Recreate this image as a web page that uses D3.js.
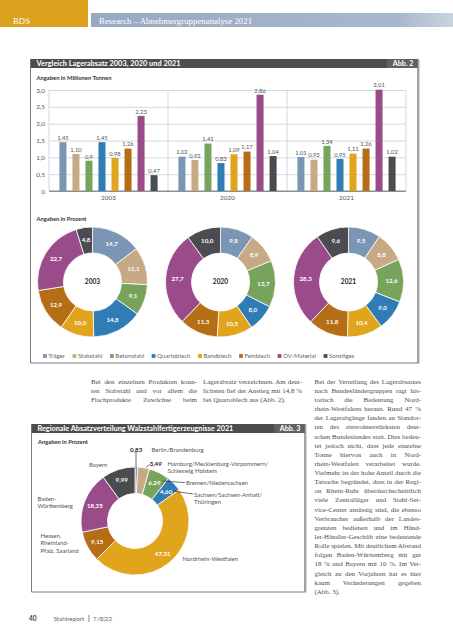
<!DOCTYPE html>
<html><head><meta charset="utf-8">
<script src="https://cdn.jsdelivr.net/npm/d3@7"></script>
<style>body{margin:0;background:#fff;} svg{display:block}</style>
</head><body>
<script>
// ---------------- DATA ----------------
const categories = ["Träger","Stabstahl","Betonstahl","Quartoblech","Bandblech","Feinblech","ÖV-Material","Sonstiges"];
const colors = ["#7b95b4","#c8a985","#78a35c","#2f7db4","#e1a41d","#b56d16","#9a4b8a","#4a4c4f"];
const years = ["2003","2020","2021"];
const tonnes2003 = [1.45,1.10,0.9,1.45,0.98,1.26,2.23,0.47];
const tonnes2020 = [1.02,0.92,1.41,0.83,1.09,1.17,2.86,1.04];
const tonnes2021 = [1.01,0.93,1.34,0.95,1.11,1.26,3.01,1.02];
const tonneLabels2003 = ["1,45","1,10","0,9","1,45","0,98","1,26","2,23","0,47"];
const tonneLabels2020 = ["1,02","0,92","1,41","0,83","1,09","1,17","2,86","1,04"];
const tonneLabels2021 = ["1,01","0,93","1,34","0,95","1,11","1,26","3,01","1,02"];
const yTicks = [0,0.5,1.0,1.5,2.0,2.5,3.0];
const yTickLabels = ["0","0,5","1,0","1,5","2,0","2,5","3,0"];
const share2003 = [14.7,11.1,9.1,14.8,10.0,12.9,22.7,4.8];
const share2020 = [9.8,8.9,13.7,8.0,10.5,11.3,27.7,10.0];
const share2021 = [9.5,8.8,12.6,9.0,10.4,11.8,28.3,9.6];
const regions = ["Berlin/Brandenburg","Hamburg/Mecklenburg-Vorpommern/Schleswig Holstein","Bremen/Niedersachsen","Sachsen/Sachsen-Anhalt/Thüringen","Nordrhein-Westfalen","Hessen, Rheinland-Pfalz, Saarland","Baden-Württemberg","Bayern"];
const regionShares = [0.83,3.49,6.29,4.60,47.31,9.15,18.35,9.99];
const regionLabels = ["0,83","3,49","6,29","4,60","47,31","9,15","18,35","9,99"];

// ---------------- TEXT ----------------
const col1 = ["Bei den einzelnen Produkten konn-","ten Stabstahl und vor allem die","Flachprodukte Zuwächse beim"];
const col2 = ["Lagerabsatz verzeichnen. Am deut-","lichsten fiel der Anstieg mit 14,8 %","bei Quartoblech aus (Abb. 2)."];
const col3 = ["Bei der Verteilung des Lagerabsatzes","nach Bundesländergruppen ragt his-","torisch die Bedeutung Nord-","rhein-Westfalens heraus. Rund 47 %","der Lagerabgänge fanden an Standor-","ten des einwohnerstärksten deut-","schen Bundeslandes statt. Dies bedeu-","tet jedoch nicht, dass jede einzelne","Tonne hiervon auch in Nord-","rhein-Westfalen verarbeitet wurde.","Vielmehr ist der hohe Anteil durch die","Tatsache begründet, dass in der Regi-","on Rhein-Ruhr überdurchschnittlich","viele Zentralläger und Stahl-Ser-","vice-Center ansässig sind, die ebenso","Verbraucher außerhalb der Landes-","grenzen bedienen und im Händ-","ler-Händler-Geschäft eine bedeutende","Rolle spielen. Mit deutlichem Abstand","folgen Baden-Württemberg mit gut","18 % und Bayern mit 10 %. Im Ver-","gleich zu den Vorjahren hat es hier","kaum Veränderungen gegeben","(Abb. 3)."];

// ---------------- SETUP ----------------
const W = 453, H = 640;
const SANS = "Lato, 'Open Sans', sans-serif";
const SERIF = "'Liberation Serif', 'DejaVu Serif', serif";
const svg = d3.select("body").append("svg").attr("width", W).attr("height", H)
  .style("font-family", SANS);
const defs = svg.append("defs");
const grad = defs.append("linearGradient").attr("id","hdr").attr("x1","0").attr("x2","1");
grad.append("stop").attr("offset","0").attr("stop-color","#97a9c1");
grad.append("stop").attr("offset","0.85").attr("stop-color","#a8b8cc");
grad.append("stop").attr("offset","1").attr("stop-color","#c9d3df");

function fit(t, width) {
  const fs = parseFloat(t.style("font-size"));
  const w = t.node().getComputedTextLength();
  if (w > 0) t.style("font-size", (fs*width/w).toFixed(2)+"px");
  return t;
}

// header
svg.append("rect").attr("x",0).attr("y",0).attr("width",88).attr("height",27).attr("fill","#dca21d");
svg.append("rect").attr("x",91).attr("y",13).attr("width",W-91).attr("height",14).attr("fill","url(#hdr)");
fit(svg.append("text").attr("x",13).attr("y",23.5).attr("fill","#fff").style("font-family",SERIF).style("font-size","7.6px").text("BDS"), 17);
fit(svg.append("text").attr("x",99).attr("y",23.5).attr("fill","#fff").style("font-family",SERIF).style("font-size","7.6px").text("Research – Abnehmergruppenanalyse 2021"), 153);

function frame(x0, y0, x1, y1, title, abb, titleW) {
  const g = svg.append("g");
  g.append("rect").attr("x",x0).attr("y",y0).attr("width",x1-x0).attr("height",9).attr("fill","#4b4d50");
  g.append("rect").attr("x",x1-31).attr("y",y0).attr("width",31).attr("height",9).attr("fill","#5f6164");
  fit(g.append("text").attr("x",x0+6).attr("y",y0+7.3).attr("fill","#fff").style("font-weight","700").style("font-size","7.4px").text(title), titleW);
  g.append("text").attr("x",x1-4.5).attr("y",y0+7.3).attr("text-anchor","end").attr("fill","#fff").style("font-weight","700").style("font-size","7.2px").text(abb);
  g.append("line").attr("x1",x0).attr("x2",x0).attr("y1",y0).attr("y2",y1).attr("stroke","#6b6d70").attr("stroke-width",0.9);
  g.append("line").attr("x1",x0).attr("x2",x1).attr("y1",y1).attr("y2",y1).attr("stroke","#6b6d70").attr("stroke-width",0.9);
  g.append("line").attr("x1",x1).attr("x2",x1).attr("y1",y0).attr("y2",y1).attr("stroke","#6b6d70").attr("stroke-width",1.3);
  g.append("line").attr("x1",x1+1.3).attr("x2",x1+1.3).attr("y1",y0+1).attr("y2",y1+1).attr("stroke","#c9c9c9").attr("stroke-width",1);
  return g;
}

// ---------------- ABB. 2 ----------------
frame(30.5, 59, 418, 363, "Vergleich Lagerabsatz 2003, 2020 und 2021", "Abb. 2", 144);
fit(svg.append("text").attr("x",36.5).attr("y",79.5).attr("fill","#333").style("font-weight","700").style("font-size","5.8px").text("Angaben in Millionen Tonnen"), 75);

const plotL = 49, plotR = 406;
const y = d3.scaleLinear().domain([0,3]).range([191,90]);
const x0 = d3.scaleBand().domain(years).range([plotL, plotR]);
const x1 = d3.scaleBand().domain(categories).range([0, x0.bandwidth()]).paddingInner(0.46).paddingOuter(0.8);

const yAxis = svg.append("g").attr("transform",`translate(${plotL},0)`)
  .call(d3.axisLeft(y).tickValues(yTicks).tickSize(-(plotR-plotL)).tickPadding(4)
    .tickFormat((d,i)=>yTickLabels[i]));
yAxis.select(".domain").remove();
yAxis.selectAll(".tick line").attr("stroke", d => d===0 ? "#8c8f93" : "#cbd5e1").attr("stroke-width", d=> d===0?1:0.9);
yAxis.selectAll(".tick text").attr("fill","#555").style("font-size","6.4px").style("font-family",SANS);

svg.append("g").selectAll("line").data([plotL, ...years.slice(1).map(d=>x0(d)), plotR]).join("line")
  .attr("x1",d=>d).attr("x2",d=>d).attr("y1",y(3)).attr("y2",y(0)).attr("stroke","#cbd5e1").attr("stroke-width",0.9);
svg.append("line").attr("x1",plotL).attr("x2",plotR).attr("y1",y(0)).attr("y2",y(0)).attr("stroke","#8c8f93").attr("stroke-width",1);

const barSeries = [
  {year:"2003", values:tonnes2003, labels:tonneLabels2003},
  {year:"2020", values:tonnes2020, labels:tonneLabels2020},
  {year:"2021", values:tonnes2021, labels:tonneLabels2021}
];
const groups = svg.append("g").selectAll("g").data(barSeries).join("g")
  .attr("transform", d=>`translate(${x0(d.year)},0)`);
groups.selectAll("rect").data(d=>d.values.map((v,i)=>({v, i, cat:categories[i]}))).join("rect")
  .attr("x", d=>x1(d.cat)).attr("width", x1.bandwidth())
  .attr("y", d=>y(d.v)).attr("height", d=>y(0)-y(d.v)).attr("fill", d=>colors[d.i]);
groups.selectAll("text.val").data(d=>d.values.map((v,i)=>({v, i, cat:categories[i], lab:d.labels[i]}))).join("text")
  .attr("class","val").attr("x", d=>x1(d.cat)+x1.bandwidth()/2).attr("y", d=>y(d.v)-2.2)
  .attr("text-anchor","middle").attr("fill","#555").style("font-size","5.8px").text(d=>d.lab);
svg.append("g").selectAll("text").data(years).join("text")
  .attr("x", d=>x0(d)+x0.bandwidth()/2).attr("y",200).attr("text-anchor","middle")
  .attr("fill","#555").style("font-size","6.4px").text(d=>d);

// donuts
fit(svg.append("text").attr("x",36.5).attr("y",221).attr("fill","#333").style("font-weight","700").style("font-size","5.8px").text("Angaben in Prozent"), 50);
const pie = d3.pie().sort(null).value(d=>d);
const donutR = 55, donutIr = 29;
const arc = d3.arc().innerRadius(donutIr).outerRadius(donutR);
const labelArc = d3.arc().innerRadius((donutR+donutIr)/2+1).outerRadius((donutR+donutIr)/2+1);
const cx = d3.scalePoint().domain(years).range([92.5, 348.5]);
const donutData = [{year:"2003", v:share2003},{year:"2020", v:share2020},{year:"2021", v:share2021}];
const fmt1 = v => v.toFixed(1).replace(".",",");
donutData.forEach(dd => {
  const g = svg.append("g").attr("transform",`translate(${cx(dd.year)},282)`);
  const arcs = pie(dd.v);
  g.selectAll("path").data(arcs).join("path").attr("d",arc).attr("fill",(d,i)=>colors[i])
    .attr("stroke","#fff").attr("stroke-width",0.8);
  g.selectAll("text.l").data(arcs).join("text").attr("class","l")
    .attr("transform", d=>`translate(${labelArc.centroid(d)})`).attr("dy","0.35em")
    .attr("text-anchor","middle").attr("fill","#fff").style("font-weight","700").style("font-size","6.2px")
    .text(d=>fmt1(d.data));
  g.append("text").attr("text-anchor","middle").attr("dy","0.35em").attr("fill","#222")
    .style("font-weight","700").style("font-size","6.6px").text(dd.year);
});

// legend
const leg = svg.append("g").attr("transform","translate(43,356)");
let lx = 0;
categories.forEach((c,i) => {
  const gi = leg.append("g").attr("transform",`translate(${lx},0)`);
  gi.append("rect").attr("x",0).attr("y",-1.9).attr("width",3.8).attr("height",3.8).attr("fill",colors[i]);
  const t = gi.append("text").attr("x",5.3).attr("dy","0.35em").attr("fill","#666").style("font-size","6.1px").text(c);
  lx += 5.3 + t.node().getComputedTextLength() + 7.6;
});

// ---------------- BODY TEXT ----------------
function column(lines, x, w, y0, lh, lastFree) {
  const g = svg.append("g").style("font-family",SERIF).style("font-size","6.95px").attr("fill","#4d4d4d");
  lines.forEach((ln,i) => {
    const t = g.append("text").attr("x",x).attr("y",y0+i*lh).text(ln);
    const isLast = (i === lines.length-1) && lastFree;
    if (!isLast) {
      const nat = t.node().getComputedTextLength();
      const gaps = ln.split(" ").length - 1;
      if (gaps > 0) t.style("word-spacing", ((w-nat)/gaps)+"px");
    }
  });
}
column(col1, 91, 106, 383.8, 9.13, false);
column(col2, 203, 99, 383.8, 9.13, true);
column(col3, 314.5, 106.5, 383.8, 9.13, true);

// ---------------- ABB. 3 ----------------
frame(31.5, 424, 305, 592, "Regionale Absatzverteilung Walzstahlfertigerzeugnisse 2021", "Abb. 3", 196);
fit(svg.append("text").attr("x",38).attr("y",444).attr("fill","#333").style("font-weight","700").style("font-size","5.8px").text("Angaben in Prozent"), 50);

const rc = {x:135, y:521};
const rArc = d3.arc().innerRadius(27.5).outerRadius(54);
const rLabelArc = d3.arc().innerRadius(43).outerRadius(43);
const rArcs = pie(regionShares);
const rg = svg.append("g").attr("transform",`translate(${rc.x},${rc.y})`);
rg.selectAll("path").data(rArcs).join("path").attr("d",rArc).attr("fill",(d,i)=>colors[i])
  .attr("stroke","#fff").attr("stroke-width",0.8);
const inside = [2,3,4,5,6,7];
rg.selectAll("text.in").data(rArcs.filter((d,i)=>inside.includes(i))).join("text").attr("class","in")
  .attr("transform", d=>`translate(${rLabelArc.centroid(d)})`).attr("dy","0.35em")
  .attr("text-anchor","middle").attr("fill","#fff").style("font-weight","700").style("font-size","6.2px")
  .text(d=>regionLabels[d.index]);

const ann = svg.append("g").style("font-size","6px").attr("fill","#555");
const leaders = [[136,451.5,136,468],[146,467.5,149.5,464.5],[162.5,481,185,482.6],[173,491,193,494]];
ann.selectAll("line").data(leaders).join("line")
  .attr("x1",d=>d[0]).attr("y1",d=>d[1]).attr("x2",d=>d[2]).attr("y2",d=>d[3])
  .attr("stroke","#333").attr("stroke-width",0.7);
ann.append("text").attr("x",130).attr("y",452).attr("fill","#222").style("font-weight","700").style("font-size","6.2px").text(regionLabels[0]);
ann.append("text").attr("x",149.5).attr("y",465.5).attr("fill","#222").style("font-weight","700").style("font-size","6.2px").text(regionLabels[1]);
const regionText = [
  {i:0, x:151.5, y:452, lines:["Berlin/Brandenburg"]},
  {i:1, x:167.5, y:465.5, lines:["Hamburg/Mecklenburg-Vorpommern/","Schleswig Holstein"]},
  {i:2, x:186, y:484.5, lines:["Bremen/Niedersachsen"]},
  {i:3, x:194, y:497, lines:["Sachsen/Sachsen-Anhalt/","Thüringen"]},
  {i:4, x:182.5, y:561, lines:["Nordrhein-Westfalen"]},
  {i:5, x:40.5, y:538, lines:["Hessen,","Rheinland-","Pfalz, Saarland"]},
  {i:6, x:37.5, y:501, lines:["Baden-","Württemberg"]},
  {i:7, x:89, y:466.5, lines:["Bayern"]}
];
regionText.forEach(r => {
  const t = ann.append("text").attr("x",r.x).attr("y",r.y);
  r.lines.forEach((l,k) => t.append("tspan").attr("x",r.x).attr("dy", k===0?0:7.4).text(l));
});

// footer
svg.append("text").attr("x",29).attr("y",621).attr("fill","#444").style("font-weight","700").style("font-size","6.6px").text("40");
svg.append("text").attr("x",53.5).attr("y",621).attr("fill","#666").style("font-size","6.3px").text("Stahlreport");
svg.append("text").attr("x",88).attr("y",621).attr("fill","#444").style("font-weight","700").style("font-size","6.6px").text("|");
svg.append("text").attr("x",93).attr("y",621).attr("fill","#666").style("font-size","6.3px").text("7/8|22");
</script>
</body></html>
